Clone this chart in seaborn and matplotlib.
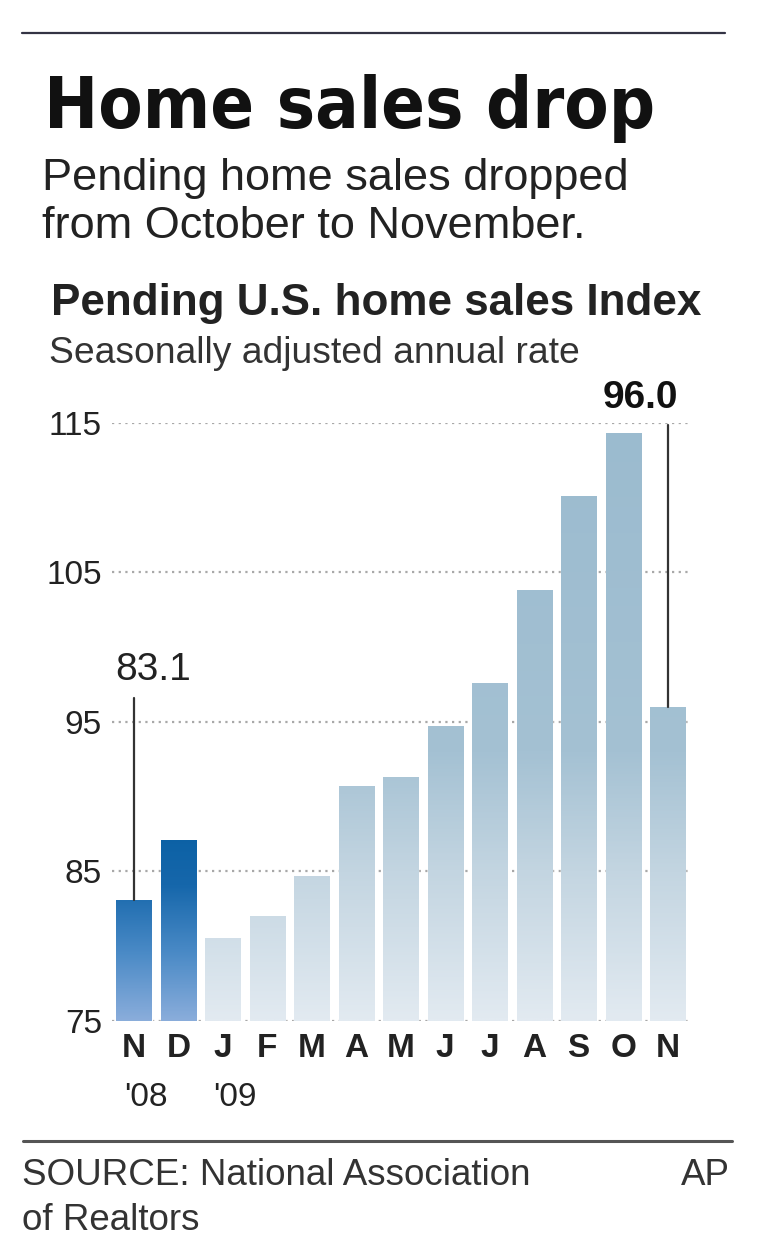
import numpy as np
import pandas as pd
import matplotlib
matplotlib.use('Agg')
import matplotlib.pyplot as plt
import seaborn as sns
from matplotlib import font_manager
from matplotlib.colors import LinearSegmentedColormap, Normalize
from matplotlib.lines import Line2D

# Data: pending home sales index, Nov 2008 - Nov 2009
periods = ['Nov08', 'Dec08', 'Jan09', 'Feb09', 'Mar09', 'Apr09', 'May09',
           'Jun09', 'Jul09', 'Aug09', 'Sep09', 'Oct09', 'Nov09']
month_labels = ['N', 'D', 'J', 'F', 'M', 'A', 'M', 'J', 'J', 'A', 'S', 'O', 'N']
index_values = [83.1, 87.1, 80.5, 82.0, 84.7, 90.7, 91.3, 94.7, 97.6, 103.8, 110.1, 114.3, 96.0]
year_group = ['2008', '2008'] + ['2009'] * 11
year_ticks = {0: "'08", 2: "'09"}
callouts = {0: '83.1', 12: '96.0'}

df = pd.DataFrame({'period': periods, 'value': index_values, 'year': year_group})

sns.set_style('white')
plt.rcParams['font.family'] = ['Liberation Sans', 'DejaVu Sans']

# look for a narrow bold face for the headline, if one is installed
title_font = None
for f in font_manager.fontManager.ttflist:
    n = f.name.lower()
    if ('narrow' in n or 'condensed' in n or f.stretch in ('condensed', 'semi-condensed')) \
            and f.weight in ('bold', 700, 800, 900, 'heavy', 'black'):
        title_font = font_manager.FontProperties(fname=f.fname)
        break
if title_font is None:
    title_font = font_manager.FontProperties(family='Liberation Sans', weight='bold')

fig = plt.figure(figsize=(7.6, 12.59), dpi=100)
ax = fig.add_axes([0.1471, 0.1893, 0.7605, 0.475])

sns.barplot(data=df, x='period', y='value', hue='year', order=periods,
            palette={'2008': '#1565a8', '2009': '#a3c0d2'}, dodge=False,
            width=0.79, legend=False, ax=ax, zorder=2)

# gradient fills, shade depends on the height in data units
dark = LinearSegmentedColormap.from_list('dark', [(0, '#8aaddb'), (0.35, '#4a8ac6'),
                                                  (0.7, '#1667ab'), (1, '#0a60a4')])
light = LinearSegmentedColormap.from_list('light', [(0, '#e2eaf1'), (0.25, '#c3d5e1'),
                                                    (0.45, '#a4c1d3'), (1, '#9bbbcf')])
for bar, grp in zip(ax.patches, df['year']):
    x0 = bar.get_x()
    x1 = x0 + bar.get_width()
    top = bar.get_height()
    cmap, norm = (dark, Normalize(75, 88)) if grp == '2008' else (light, Normalize(75, 115))
    grad = np.linspace(top, 75, 200).reshape(-1, 1)
    im = ax.imshow(grad, cmap=cmap, norm=norm, extent=(x0, x1, 75, top),
                   aspect='auto', origin='upper', zorder=3)
    im.set_clip_path(bar)
ax.set_xlim(-0.5, len(periods) - 0.5)
ax.set_ylim(75, 115)

# dotted gridlines
ax.set_yticks([75, 85, 95, 105, 115])
for yv in [75, 85, 95, 105, 115]:
    ax.axhline(yv, color='#a8a8a8', lw=1.6, ls=(0, (1, 2)), zorder=1)
ax.tick_params(axis='y', length=0, pad=7, labelsize=24, labelcolor='#222222')
ax.tick_params(axis='x', length=0, pad=9, labelsize=24, labelcolor='#222222')
ax.set_xticks(range(len(periods)))
ax.set_xticklabels(month_labels, fontweight='bold')
ax.set_xlabel('')
ax.set_ylabel('')
sns.despine(ax=ax, left=True, bottom=True)

for i, yr in year_ticks.items():
    ax.annotate(yr, xy=(i, 0), xycoords=('data', 'axes fraction'),
                xytext=(-7, -44), textcoords='offset points',
                ha='left', va='top', fontsize=24, color='#222222')

# callout lines and value labels
ax.plot([0, 0], [index_values[0], 96.6], color='#333333', lw=1.6, zorder=4)
ax.annotate(callouts[0], xy=(0, 97.8), xytext=(-13.7, 0), textcoords='offset points',
            ha='left', va='baseline', fontsize=28, color='#222222', annotation_clip=False)
ax.plot([12, 12], [index_values[12], 114.85], color='#333333', lw=1.6, zorder=4, clip_on=False)
ax.annotate(callouts[12], xy=(12, 115.96), xytext=(7.5, 0), textcoords='offset points',
            ha='right', va='baseline', fontsize=28, fontweight='bold', color='#111111',
            annotation_clip=False)

# header and footer
fig.add_artist(Line2D([0.0286, 0.954], [0.9735, 0.9735], color='#333344', lw=1.6))
title = fig.text(0.058, 0.8983, 'Home sales drop', fontproperties=title_font,
                 color='#111111', va='baseline')
title.set_fontsize(68)
# shrink the headline until it spans the same width as the reference (~610 px)
renderer = fig.canvas.get_renderer()
w = title.get_window_extent(renderer).width
if w > 615:
    title.set_fontsize(68 * 612 / w)

fig.text(0.055, 0.8491, 'Pending home sales dropped', fontsize=32.5, color='#222222', va='baseline')
fig.text(0.055, 0.8110, 'from October to November.', fontsize=32.5, color='#222222', va='baseline')
fig.text(0.067, 0.7498, 'Pending U.S. home sales Index', fontsize=31.7, fontweight='bold',
         color='#222222', va='baseline')
fig.text(0.064, 0.7117, 'Seasonally adjusted annual rate', fontsize=26.8, color='#333333', va='baseline')

fig.add_artist(Line2D([0.0303, 0.9628], [0.0937, 0.0937], color='#555555', lw=2.2))
fig.text(0.029, 0.0588, 'SOURCE: National Association', fontsize=26.5, color='#333333', va='baseline')
fig.text(0.029, 0.0230, 'of Realtors', fontsize=26.5, color='#333333', va='baseline')
fig.text(0.961, 0.0588, 'AP', fontsize=26.5, color='#333333', va='baseline', ha='right')

fig.savefig('out.png', dpi=100)
